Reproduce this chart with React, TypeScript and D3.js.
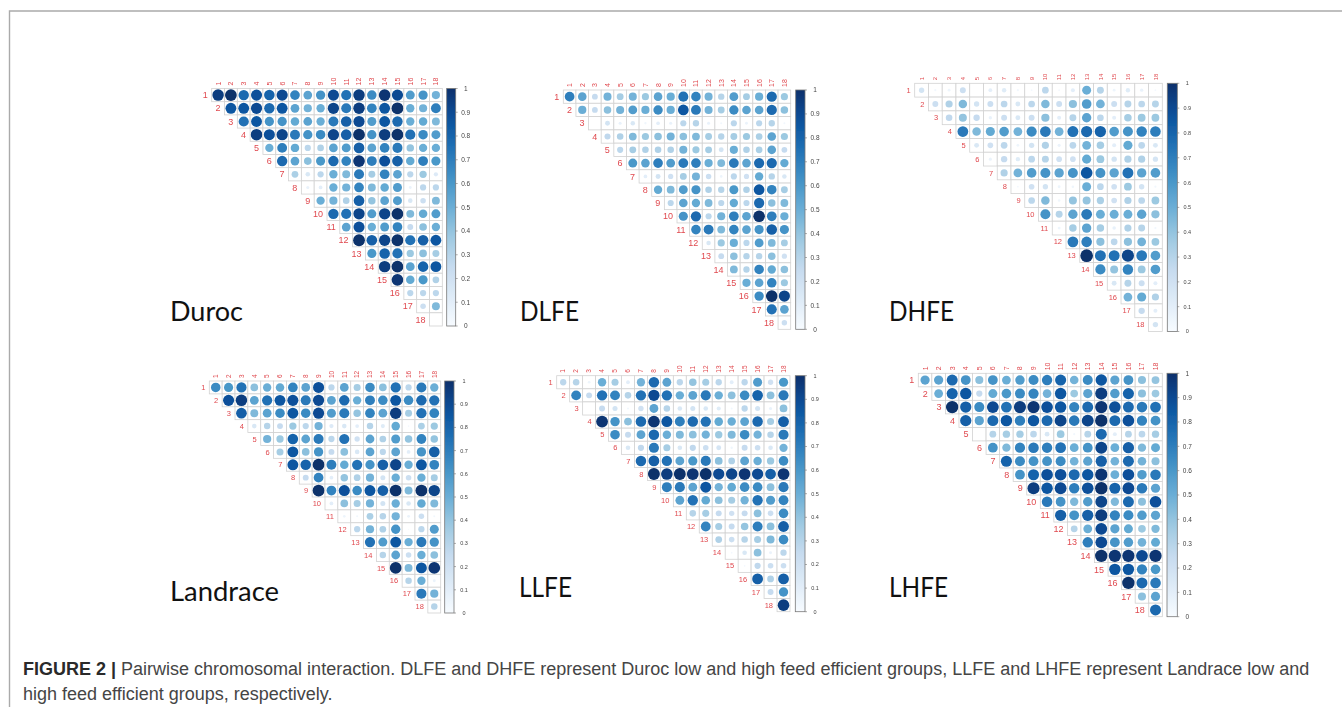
import React from "react";
import * as d3 from "d3";

const chromosomes = d3.range(1, 19).map(String);
const colorbarTicks = d3.range(0, 11).map((d) => d / 10);
const captionBold = "FIGURE 2 | ";
const captionLine1 = "Pairwise chromosomal interaction. DLFE and DHFE represent Duroc low and high feed efficient groups, LLFE and LHFE represent Landrace low and";
const captionLine2 = "high feed efficient groups, respectively.";

const durocValues = [
  [95,100,78,88,80,90,68,55,62,90,75,95,65,98,90,58,62,48],
  [85,85,90,78,85,55,48,50,92,72,95,68,85,100,50,48,70],
  [75,85,62,62,52,55,50,72,82,90,58,85,78,50,52,45],
  [95,88,92,72,62,65,92,82,100,62,95,100,75,65,58],
  [50,70,52,28,32,55,58,82,55,68,72,40,50,50],
  [78,55,42,60,78,68,98,70,88,82,52,70,60],
  [33,15,28,50,45,72,35,68,55,28,38,13],
  [7,10,50,48,68,45,52,58,6,28,28],
  [50,48,32,82,40,55,58,15,22,45],
  [78,75,92,58,92,100,45,52,58],
  [55,88,50,58,68,25,42,50],
  [100,82,92,100,75,82,85],
  [60,80,75,38,42,35],
  [95,100,55,80,85],
  [98,52,60,32],
  [28,28,28],
  [22,45],
  [0],
];
const dlfeValues = [
  [70,55,25,48,35,48,38,55,50,75,68,48,30,58,35,50,78,38],
  [50,25,42,48,58,50,65,50,85,72,48,35,65,55,55,78,42],
  [0,18,7,15,4,10,7,28,30,7,3,28,6,28,30,3],
  [27,32,45,38,42,48,42,45,35,30,35,38,33,55,38],
  [28,35,32,32,32,48,38,35,18,50,32,33,55,25],
  [60,55,70,58,72,70,50,45,72,55,78,78,52],
  [10,18,20,35,48,22,5,28,20,52,30,15],
  [52,45,58,62,32,30,60,32,85,68,35],
  [28,55,52,45,28,52,28,78,42,45],
  [62,78,28,48,70,55,100,70,50],
  [68,72,45,68,55,62,82,62],
  [15,38,50,28,58,45,35],
  [25,42,30,30,42,20],
  [45,30,68,52,42],
  [50,55,68,38],
  [65,100,92],
  [75,55],
  [22],
];
const dhfeValues = [
  [18,3,5,22,0,9,12,3,2,28,2,10,50,30,5,12,7,2],
  [22,32,45,18,22,28,15,28,45,22,42,58,48,22,30,28,30],
  [27,40,25,7,22,15,22,42,10,30,55,28,10,35,38,38],
  [72,45,52,58,48,65,72,48,75,78,80,58,62,68,70],
  [15,20,28,5,18,32,6,28,48,35,10,52,28,15],
  [6,25,12,28,30,20,20,52,38,18,32,32,17],
  [32,48,58,62,55,62,85,62,55,75,55,58],
  [2,20,18,5,4,50,28,20,38,18,3],
  [28,45,4,40,40,33,20,32,28,38],
  [62,30,55,72,50,50,50,55,42],
  [5,35,55,35,8,32,30,3],
  [72,70,42,28,42,48,38],
  [100,75,75,92,72,58],
  [65,40,68,38,58],
  [15,30,22,10],
  [48,52,32],
  [25,10],
  [18],
];
const landraceValues = [
  [65,60,75,42,50,52,68,55,88,28,55,35,65,42,75,28,72,50],
  [88,95,55,75,85,88,72,90,55,78,50,70,65,85,65,78,75],
  [82,45,55,65,85,65,90,58,72,40,68,55,95,35,75,68],
  [15,30,25,38,28,48,13,15,10,30,12,52,2,33,38],
  [48,38,80,55,72,28,75,20,55,32,58,40,68,40],
  [35,85,42,62,25,42,15,55,28,55,10,62,82],
  [85,80,100,70,52,75,62,82,92,50,85,68],
  [25,68,10,40,32,48,18,50,22,50,35],
  [100,68,88,65,85,82,100,45,100,92],
  [10,42,35,48,18,50,15,52,45],
  [5,3,33,30,48,6,22,3],
  [28,48,32,62,1,28,58],
  [75,58,85,50,72,62],
  [30,55,22,50,42],
  [100,45,85,98],
  [30,50,6],
  [72,48],
  [30],
];
const llfeValues = [
  [28,30,5,50,35,10,48,78,55,28,40,35,28,10,28,58,20,60],
  [68,25,75,68,30,75,90,75,50,55,72,50,42,65,80,42,72],
  [0,25,18,3,20,55,30,15,18,15,12,3,28,18,7,42],
  [98,62,42,78,98,85,70,78,75,52,50,55,78,35,82],
  [65,25,55,78,50,45,42,48,38,45,65,48,30,72],
  [15,27,72,35,15,27,22,17,4,25,22,15,48],
  [78,82,75,55,60,72,42,32,55,50,38,65],
  [100,95,100,98,100,90,92,98,90,82,98],
  [70,72,55,85,48,52,65,65,42,72],
  [55,75,52,42,35,48,75,58,68],
  [30,35,25,20,25,42,22,65],
  [68,35,25,40,70,42,82],
  [32,22,30,35,45,65],
  [2,15,42,6,28],
  [2,27,22,22],
  [82,32,82],
  [25,62],
  [95],
];
const lhfeValues = [
  [55,55,78,62,42,62,50,58,65,70,80,48,65,85,55,62,42,40],
  [50,80,85,25,52,60,65,68,48,85,38,55,95,58,80,42,38],
  [100,82,65,90,75,95,98,88,85,68,78,98,88,78,72,75],
  [82,55,78,85,70,85,78,92,72,92,100,78,88,68,62],
  [0,30,35,35,28,15,38,3,30,78,10,30,28,35],
  [62,45,68,72,70,75,50,62,92,50,82,45,52],
  [80,65,62,62,65,48,55,82,48,78,48,42],
  [62,80,88,88,78,85,98,50,88,58,72],
  [95,85,90,70,88,100,80,90,72,55],
  [72,62,45,58,92,45,78,42,88],
  [82,62,82,95,68,65,58,55],
  [30,50,90,55,52,38,45],
  [70,90,62,58,48,52],
  [100,98,98,90,98],
  [85,85,68,60],
  [100,78,72],
  [42,55],
  [78],
];

const panels = [
  { name: "Duroc", values: durocValues, left: 211.7, right: 442.3, top: 88.5, bottom: 326, barL: 446.7, barR: 455.7, nameX: 170, nameY: 321, nameW: 73, fs: 9, colFs: 7, tickFs: 6.5 },
  { name: "DLFE", values: dlfeValues, left: 563.3, right: 790.7, top: 90, bottom: 329.3, barL: 795.7, barR: 805, nameX: 520, nameY: 321, nameW: 59, fs: 9, colFs: 7, tickFs: 6.5 },
  { name: "DHFE", values: dhfeValues, left: 914.7, right: 1162.3, top: 83.3, bottom: 331.5, barL: 1167.3, barR: 1177.3, nameX: 889, nameY: 321, nameW: 65, fs: 7.5, colFs: 6, tickFs: 5.5 },
  { name: "Landrace", values: landraceValues, left: 209.3, right: 440.7, top: 381, bottom: 613, barL: 444.7, barR: 454, nameX: 170, nameY: 601, nameW: 109, fs: 7.5, colFs: 6.5, tickFs: 5.5 },
  { name: "LLFE", values: llfeValues, left: 556.7, right: 790, top: 375.7, bottom: 611.7, barL: 795.3, barR: 805, nameX: 519, nameY: 597, nameW: 53, fs: 7.5, colFs: 6.5, tickFs: 5.5 },
  { name: "LHFE", values: lhfeValues, left: 918.3, right: 1162.3, top: 373.3, bottom: 616.7, barL: 1167, barR: 1177.3, nameX: 889, nameY: 597, nameW: 59, fs: 9, colFs: 7, tickFs: 6.5 },
];

const blues = d3.schemeBlues[9];
const color = d3
  .scaleLinear<string>()
  .domain(blues.map((_, i) => i / (blues.length - 1)))
  .range(blues as string[])
  .interpolate(d3.interpolateRgb);
const gradientStops = d3.range(0, 1.0001, 0.05);
const red = "#e0494f";

function Panel({ p, index }: { p: (typeof panels)[number]; index: number }) {
  const x = d3.scaleBand().domain(chromosomes).range([p.left, p.right]);
  const y = d3.scaleBand().domain(chromosomes).range([p.top, p.bottom]);
  const bw = x.bandwidth();
  const bh = y.bandwidth();
  const radius = d3.scaleSqrt().domain([0, 1]).range([0, 0.46 * Math.min(bw, bh)]);
  const barY = d3.scaleLinear().domain([0, 1]).range([p.bottom, p.top]);
  const gid = `bar${index}`;
  return (
    <g>
      <defs>
        <linearGradient id={gid} x1="0" y1="1" x2="0" y2="0">
          {gradientStops.map((s) => (
            <stop key={s} offset={s} stopColor={color(s)} />
          ))}
        </linearGradient>
      </defs>
      <g filter="url(#soft)">
        {chromosomes.map((c) => (
          <text key={c} transform={`translate(${x(c)! + bw / 2 + p.colFs * 0.35},${p.top - 3}) rotate(-90)`} fontSize={p.colFs} fill={red} fontFamily="Liberation Sans">
            {c}
          </text>
        ))}
        {p.values.map((row, i) => (
          <g key={i}>
            <text x={x(chromosomes[i])! - 4} y={y(chromosomes[i])! + bh / 2 + p.fs * 0.35} textAnchor="end" fontSize={p.fs} fill={red} fontFamily="Liberation Sans">
              {chromosomes[i]}
            </text>
            {row.map((v, k) => {
              const col = chromosomes[i + k];
              const cx = x(col)! + bw / 2;
              const cy = y(chromosomes[i])! + bh / 2;
              return (
                <g key={k}>
                  <rect x={x(col)} y={y(chromosomes[i])} width={bw} height={bh} fill="#fff" stroke="#d2d2d2" strokeWidth={0.8} />
                  <circle cx={cx} cy={cy} r={radius(v / 100)} fill={color(v / 100)} />
                </g>
              );
            })}
          </g>
        ))}
        <rect x={p.barL} y={p.top} width={p.barR - p.barL} height={p.bottom - p.top} fill={`url(#${gid})`} stroke="#777" strokeWidth={0.8} />
        {colorbarTicks.map((t) => (
          <g key={t}>
            <line x1={p.barR} x2={p.barR + 2} y1={barY(t)} y2={barY(t)} stroke="#777" strokeWidth={0.6} />
            <text x={p.barR + 10} y={barY(t) + p.tickFs * 0.35} textAnchor="middle" fontSize={p.tickFs} fill="#444" fontFamily="Liberation Sans">
              {t}
            </text>
          </g>
        ))}
      </g>
      <text x={p.nameX} y={p.nameY} fontSize={27} fill="#111" fontFamily="Lato" textLength={p.nameW} lengthAdjust="spacingAndGlyphs">
        {p.name}
      </text>
    </g>
  );
}

export default function App() {
  return (
    <svg width={1342} height={707} style={{ position: "absolute", left: 0, top: 0, background: "#fff" }}>
      <defs>
        <filter id="soft" x="-5%" y="-5%" width="110%" height="110%">
          <feGaussianBlur stdDeviation={0.4} />
        </filter>
      </defs>
      <path d="M9.5,707V11H1342" fill="none" stroke="#aaa" strokeWidth={1.4} />
      {panels.map((p, i) => (
        <Panel key={p.name} p={p} index={i} />
      ))}
      <text x={23} y={675} fontSize={18} fill="#454545" fontFamily="Liberation Sans">
        <tspan fontWeight="bold" fill="#2a2a2a">{captionBold}</tspan>
        {captionLine1}
      </text>
      <text x={23} y={700} fontSize={18} fill="#454545" fontFamily="Liberation Sans">
        {captionLine2}
      </text>
    </svg>
  );
}
